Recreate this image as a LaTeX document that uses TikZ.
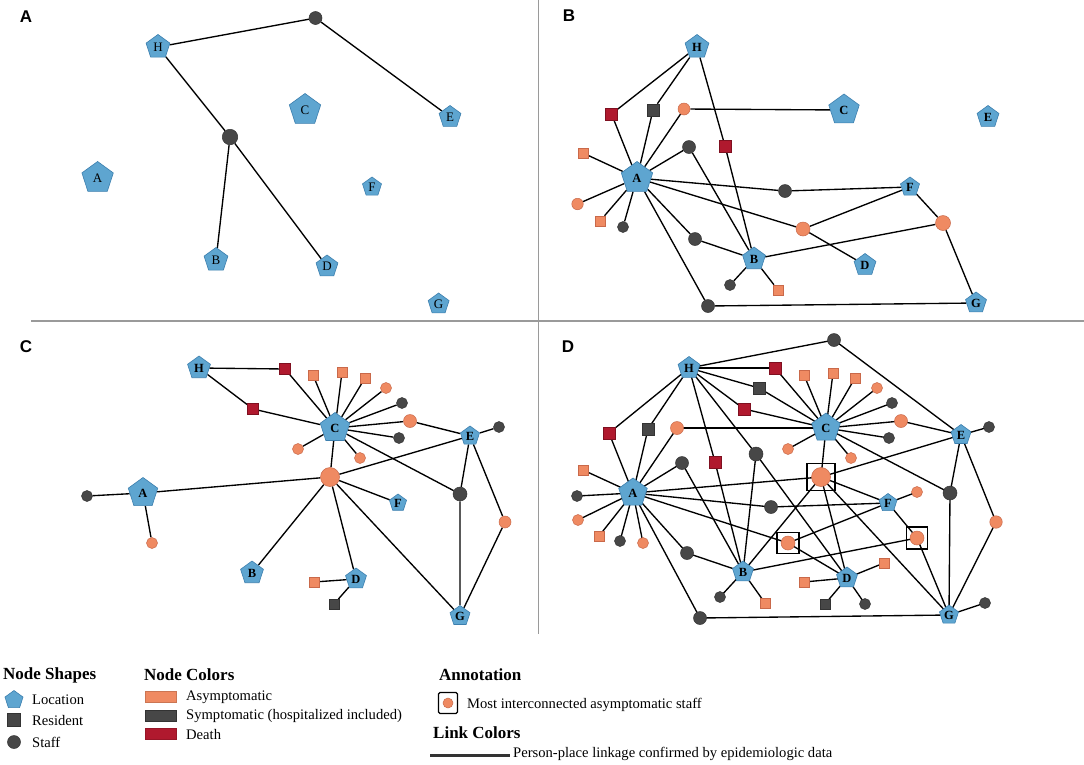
\documentclass[tikz,border=0pt]{standalone}
\usepackage{fontspec}
\setmainfont{Liberation Serif}
\newfontfamily\panelfont{Liberation Sans}
\usetikzlibrary{shapes.geometric}
\definecolor{locfill}{HTML}{5EA5D0}
\definecolor{locborder}{HTML}{3C7FAE}
\definecolor{sorange}{HTML}{EF8A62}
\definecolor{sorangeb}{HTML}{C9694A}
\definecolor{sdark}{HTML}{474747}
\definecolor{sdarkb}{HTML}{333333}
\definecolor{sred}{HTML}{B0192E}
\definecolor{sredb}{HTML}{7F1020}
\definecolor{divgray}{HTML}{9A9A9A}
\newcommand{\lblfont}{\fontsize{12.5}{12.5}\selectfont\bfseries}
\newcommand{\lblfontA}{\fontsize{13}{13}\selectfont}
\newcommand{\lgtext}{\fontsize{14.6}{16}\selectfont}
\newcommand{\lghead}{\fontsize{17}{19}\selectfont\bfseries}
\newcommand{\pnlfont}{\panelfont\fontsize{17}{17}\selectfont\bfseries}
\pgfdeclarelayer{backdrop}
\pgfdeclarelayer{bg}
\pgfsetlayers{backdrop,bg,main}
\tikzset{
  edge/.style={line width=1.35pt, black},
  loc/.style={regular polygon, regular polygon sides=5, inner sep=0pt, minimum size=#1, fill=locfill, draw=locborder, line width=0.6pt, font=\lblfont},
  locA/.style={loc=#1, font=\lblfontA},
  stf/.style={circle, inner sep=0pt, minimum size=#1, fill=sdark, draw=sdarkb, line width=0.5pt},
  ast/.style={circle, inner sep=0pt, minimum size=#1, fill=sorange, draw=sorangeb, line width=0.5pt},
  res/.style={rectangle, inner sep=0pt, minimum size=#1, fill=sdark, draw=sdarkb, line width=0.5pt},
  ares/.style={rectangle, inner sep=0pt, minimum size=#1, fill=sorange, draw=sorangeb, line width=0.5pt},
  dres/.style={rectangle, inner sep=0pt, minimum size=#1, fill=sred, draw=sredb, line width=0.5pt},
  hbox/.style={rectangle, draw=black, line width=1.3pt, inner sep=0pt},
  swatch/.style={rectangle, inner sep=0pt, minimum width=31, minimum height=11, line width=0.8pt},
  lgt/.style={anchor=west, inner sep=0pt, font=\lgtext},
  lgh/.style={anchor=west, inner sep=0pt, font=\lghead},
  pnl/.style={inner sep=0pt, font=\pnlfont},
  divider/.style={draw=divgray, line width=1.5pt}
}
\begin{document}
\begin{tikzpicture}[x=1pt,y=-1pt]
\useasboundingbox (0,0) rectangle (1084,764);
\begin{pgfonlayer}{backdrop}
\fill[white] (0,0) rectangle (1084,764);
\end{pgfonlayer}

% dividers
\coordinate (v1) at (538.5,0); \coordinate (v2) at (538.5,634);
\coordinate (h1) at (31,321); \coordinate (h2) at (1084,321);
\draw[divider] (v1) -- (v2);
\draw[divider] (h1) -- (h2);

% panel labels
\node[pnl] (lA) at (26,17) {A};
\node[pnl] (lB) at (569,16) {B};
\node[pnl] (lC) at (26,347) {C};
\node[pnl] (lD) at (568,347) {D};

%================ Panel A
\node[locA=25] (aH) at (158,47) {H};
\node[locA=33] (aC) at (305,110) {C};
\node[locA=23] (aE) at (450,117) {E};
\node[locA=33] (aA) at (97.6,178) {A};
\node[locA=20] (aF) at (372,187) {F};
\node[locA=25] (aB) at (216,260) {B};
\node[locA=23] (aD) at (327,266.5) {D};
\node[locA=22] (aG) at (438.6,304) {G};
\node[stf=13] (a1) at (315.5,18) {};
\node[stf=15.5] (a2) at (230,137) {};

%================ Panel B
\node[loc=25] (bH) at (697,47) {H};
\node[loc=32] (bC) at (844,110) {C};
\node[loc=23] (bE) at (988,117) {E};
\node[loc=33] (bA) at (637,178) {A};
\node[loc=20] (bF) at (910,187) {F};
\node[loc=24] (bB) at (754,259) {B};
\node[loc=23] (bD) at (865,265) {D};
\node[loc=22] (bG) at (976,303) {G};
\node[dres=12] (b1) at (611.5,114) {};
\node[res=12] (b2) at (653,110) {};
\node[ast=12] (b3) at (684,109) {};
\node[ares=10] (b4) at (583,153) {};
\node[stf=13] (b5) at (689,147) {};
\node[dres=11.5] (b6) at (725,146) {};
\node[stf=13] (b7) at (785,191) {};
\node[ast=11.5] (b8) at (577.5,204) {};
\node[ares=10] (b9) at (600,221) {};
\node[stf=11] (b10) at (623,227) {};
\node[ast=14] (b11) at (803,229) {};
\node[ast=15] (b12) at (943,223) {};
\node[stf=13] (b13) at (695,239) {};
\node[stf=11] (b14) at (730,285) {};
\node[ares=10] (b15) at (778,290) {};
\node[stf=13] (b16) at (708,306) {};

%================ Panel C
\node[loc=24] (cH) at (199,368) {H};
\node[loc=31] (cC) at (335,428) {C};
\node[loc=20] (cE) at (470,436) {E};
\node[loc=31] (cA) at (143,493) {A};
\node[loc=18] (cF) at (398,503) {F};
\node[loc=24] (cB) at (252,573) {B};
\node[loc=22] (cD) at (356,579) {D};
\node[loc=21] (cG) at (460,616) {G};
\node[dres=11] (c1) at (285,369) {};
\node[ares=10] (c2) at (313,375) {};
\node[ares=10] (c3) at (342,372) {};
\node[ares=10] (c4) at (365,378) {};
\node[ast=11] (c5) at (386,388) {};
\node[stf=11] (c6) at (402,403) {};
\node[dres=11] (c7) at (253,409) {};
\node[ast=13] (c8) at (410,421) {};
\node[stf=11] (c9) at (399,438) {};
\node[stf=11] (c10) at (499,427) {};
\node[ast=11] (c11) at (298,449) {};
\node[ast=11] (c12) at (360,458) {};
\node[ast=19] (c13) at (330,477) {};
\node[stf=11] (c14) at (87,496) {};
\node[stf=14] (c15) at (460,494) {};
\node[ast=12] (c16) at (505,522) {};
\node[ast=11] (c17) at (152,543) {};
\node[ares=10] (c18) at (314,582) {};
\node[res=9.5] (c19) at (334,604) {};

%================ Panel D
\node[loc=23] (dH) at (689,368) {H};
\node[loc=30] (dC) at (826,428) {C};
\node[loc=21] (dE) at (961,435) {E};
\node[loc=30] (dA) at (633,493) {A};
\node[loc=19] (dF) at (888,503) {F};
\node[loc=22] (dB) at (743,572) {B};
\node[loc=22] (dD) at (847,578) {D};
\node[loc=20] (dG) at (949,615) {G};
\node[stf=13] (d1) at (834,340) {};
\node[dres=11.5] (d2) at (775,368) {};
\node[ares=10] (d3) at (804,375) {};
\node[ares=10] (d4) at (833,373) {};
\node[ares=10] (d5) at (855,378) {};
\node[ast=11] (d6) at (877,388) {};
\node[res=11.5] (d7) at (759,388) {};
\node[stf=11] (d8) at (892,403) {};
\node[dres=11.5] (d9) at (744,409) {};
\node[ast=13] (d10) at (901,421) {};
\node[stf=11] (d11) at (889,438) {};
\node[stf=11] (d12) at (989,427) {};
\node[dres=11.5] (d13) at (609,433) {};
\node[res=11.5] (d14) at (648,429) {};
\node[ast=13] (d15) at (677,428) {};
\node[ast=11] (d16) at (788,449) {};
\node[ast=11] (d17) at (851,458) {};
\node[stf=14] (d18) at (756,454) {};
\node[stf=13] (d19) at (682,463) {};
\node[dres=11.5] (d20) at (715,462) {};
\node[ares=10] (d21) at (583,470) {};
\node[ast=19] (d22) at (821,477) {};
\node[hbox, minimum width=28, minimum height=27] (d22box) at (821,477) {};
\node[stf=11] (d23) at (577,496) {};
\node[ast=11] (d24) at (917,492) {};
\node[stf=14] (d25) at (950,493) {};
\node[stf=13] (d26) at (771,507) {};
\node[ast=11] (d27) at (578,520) {};
\node[ast=12.5] (d28) at (996,522) {};
\node[ares=10] (d29) at (599,536) {};
\node[stf=11] (d30) at (620,541) {};
\node[ast=11] (d31) at (643,543) {};
\node[ast=14] (d32) at (788,543) {};
\node[hbox, minimum width=22, minimum height=21] (d32box) at (788,543) {};
\node[ast=14] (d33) at (917,538) {};
\node[hbox, minimum width=21, minimum height=22] (d33box) at (917,538) {};
\node[stf=13] (d34) at (687,553) {};
\node[ares=10] (d35) at (884,563) {};
\node[ares=10] (d36) at (804,582) {};
\node[stf=11] (d37) at (720,597) {};
\node[ares=10] (d38) at (765,603) {};
\node[res=10] (d39) at (825,604) {};
\node[stf=11] (d40) at (865,604) {};
\node[stf=11] (d41) at (985,603) {};
\node[stf=13] (d42) at (700,618) {};

%================ Edges
\begin{pgfonlayer}{bg}
\foreach \u/\v in {aH/a1, a1/aE, aH/a2, a2/aB, a2/aD}
  \draw[edge] (\u) -- (\v);
\foreach \u/\v in {bH/b1, bH/b2, bH/b6, b1/bA, b2/bA, b3/bA, b3/bC, b4/bA, b5/bA, b5/bB, b6/bB,
  bA/b7, b7/bF, bA/b11, b11/bF, b11/bD, bA/b8, bA/b9, bA/b10, bA/b13, b13/bB, bA/b16, b16/bG,
  bB/b12, b12/bF, b12/bG, bB/b14, bB/b15}
  \draw[edge] (\u) -- (\v);
\foreach \u/\v in {cH/c1, c1/cC, cH/c7, c7/cC, cC/c2, cC/c3, cC/c4, cC/c5, cC/c6, cC/c8, c8/cE,
  cC/c9, cC/c11, cC/c12, cC/c13, cC/c15, c13/cE, c13/cA, c13/cF, c13/cB, c13/cD, c13/cG,
  cA/c14, cA/c17, cE/c10, cE/c15, cE/c16, c15/cG, c16/cG, cD/c18, cD/c19}
  \draw[edge] (\u) -- (\v);
\foreach \u/\v in {dH/d1, d1/dE, dH/d2, d2/dC, dH/d7, d7/dC, dH/d9, d9/dC, dH/d13, d13/dA,
  dH/d14, d14/dA, dH/d20, d20/dB, dH/d18, d18/dB, d18/dD, d15/dA, d15/dC,
  dC/d3, dC/d4, dC/d5, dC/d6, dC/d8, dC/d10, dC/d11, dC/d16, dC/d17, d10/dE,
  dC/d22, dC/d25, d22/dE, d22/dA, d22/dF, d22/dB, d22/dD, d22/dG,
  dA/d21, dA/d23, dA/d27, dA/d29, dA/d30, dA/d31, dA/d19, d19/dB, dA/d26, d26/dF,
  dA/d32, d32/dF, d32/dD, dA/d34, d34/dB, dA/d42, d42/dG,
  dB/d33, d33/dF, d33/dG, dB/d37, dB/d38,
  dD/d36, dD/d39, dD/d40, dD/d35, dF/d24,
  dE/d12, dE/d25, dE/d28, d25/dG, d28/dG, dG/d41}
  \draw[edge] (\u.center) -- (\v.center);
\end{pgfonlayer}

%================ Legend
\node[lgh] (lgShapes) at (3,675) {Node Shapes};
\node[loc=19] (lgLoc) at (14,700) {};
\node[lgt] (lgLocT) at (32,700) {Location};
\node[res=13] (lgRes) at (14,720) {};
\node[lgt] (lgResT) at (32,720) {Resident};
\node[stf=13] (lgStf) at (14,742) {};
\node[lgt] (lgStfT) at (32,742) {Staff};

\node[lgh] (lgColors) at (144,675) {Node Colors};
\node[swatch, fill=sorange, draw=sorange!85!black] (lgSw1) at (160.5,697) {};
\node[lgt] (lgSw1T) at (186,697) {Asymptomatic};
\node[swatch, fill=sdark, draw=sdarkb] (lgSw2) at (160.5,716) {};
\node[lgt] (lgSw2T) at (186,716) {Symptomatic (hospitalized included)};
\node[swatch, fill=sred, draw=sred!85!black] (lgSw3) at (160.5,734) {};
\node[lgt] (lgSw3T) at (186,734) {Death};

\node[lgh] (lgAnn) at (439,675) {Annotation};
\node[hbox, minimum width=19, minimum height=21, rounded corners=1.5pt] (lgBox) at (448,703) {};
\node[ast=10] (lgBoxC) at (448,703) {};
\node[lgt] (lgBoxT) at (467,705) {Most interconnected asymptomatic staff};
\node[lgh] (lgLink) at (433,733) {Link Colors};
\coordinate (lgL1) at (430,755);
\coordinate (lgL2) at (510,755);
\draw[line width=3pt, sdarkb] (lgL1) -- (lgL2);
\node[lgt] (lgLinkT) at (513,754) {Person-place linkage confirmed by epidemiologic data};
\end{tikzpicture}
\end{document}
